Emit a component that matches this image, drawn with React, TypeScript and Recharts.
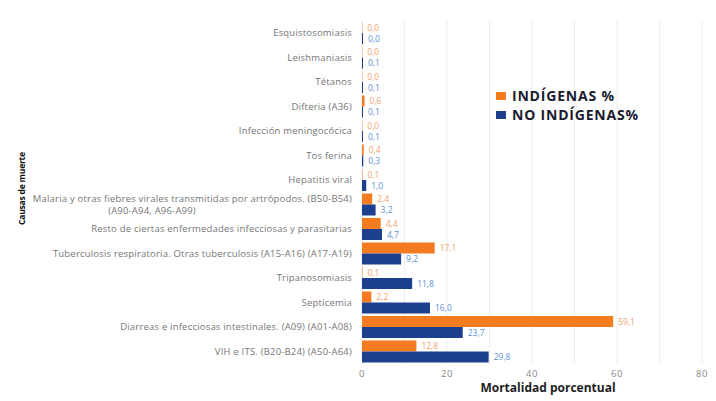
import { BarChart, Bar, XAxis, YAxis, CartesianGrid, LabelList } from 'recharts';

const causas = [
  'Esquistosomiasis',
  'Leishmaniasis',
  'Tétanos',
  'Difteria (A36)',
  'Infección meningocócica',
  'Tos ferina',
  'Hepatitis viral',
  'Malaria y  otras fiebres virales transmitidas por artrópodos. (B50-B54)|(A90-A94, A96-A99)',
  'Resto de ciertas enfermedades infecciosas y parasitarias',
  'Tuberculosis respiratoria. Otras tuberculosis (A15-A16) (A17-A19)',
  'Tripanosomiasis',
  'Septicemia',
  'Diarreas e infecciosas intestinales. (A09) (A01-A08)',
  'VIH e ITS. (B20-B24) (A50-A64)',
];

const indigenas = [0.0, 0.0, 0.0, 0.6, 0.0, 0.4, 0.1, 2.4, 4.4, 17.1, 0.1, 2.2, 59.1, 12.8];
const noIndigenas = [0.0, 0.1, 0.1, 0.1, 0.1, 0.3, 1.0, 3.2, 4.7, 9.2, 11.8, 16.0, 23.7, 29.8];

const xTicks = [0, 10, 20, 30, 40, 50, 60, 70, 80];

const ORANGE = '#F47B20';
const BLUE = '#1D3F8F';
const FONT = '"Open Sans", sans-serif';

const legendItems = [
  { label: 'INDÍGENAS %', color: ORANGE },
  { label: 'NO INDÍGENAS%', color: BLUE },
];

const data = causas.map((c, i) => ({
  causa: c,
  indigenas: indigenas[i],
  noIndigenas: noIndigenas[i],
}));

const fmt = (v: any) => Number(v).toFixed(1).replace('.', ',');

const tickStyle = { fontSize: 9.5, fontFamily: FONT, fill: '#767676', letterSpacing: 0.2 };

function CauseTick({ x, y, payload }: any) {
  const lines = String(payload.value).split('|');
  if (lines.length === 1) {
    return (
      <text x={x} y={y} dy={3} textAnchor="end" {...tickStyle}>
        {lines[0]}
      </text>
    );
  }
  return (
    <g>
      <text x={x} y={y} dy={-3} textAnchor="end" {...tickStyle}>
        {lines[0]}
      </text>
      <text x={152} y={y} dy={9.5} textAnchor="middle" {...tickStyle}>
        {lines[1]}
      </text>
    </g>
  );
}

function YTitle({ viewBox }: any) {
  const cy = viewBox.y + viewBox.height / 2 - 4;
  return (
    <text
      x={25}
      y={cy}
      transform={`rotate(-90 25 ${cy})`}
      textAnchor="middle"
      fontSize={8.5}
      fontWeight={700}
      fontFamily={FONT}
      fill="#111"
      letterSpacing={-0.2}
    >
      Causas de muerte
    </text>
  );
}

function XTitle({ viewBox }: any) {
  const cx = viewBox.x + viewBox.width / 2 + 16;
  return (
    <text
      x={cx}
      y={392}
      textAnchor="middle"
      fontSize={12}
      fontWeight={700}
      fontFamily={FONT}
      fill="#1e1e1e"
    >
      Mortalidad porcentual
    </text>
  );
}

export default function App() {
  return (
    <div style={{ position: 'absolute', left: 0, top: 0, width: 716, height: 401, background: '#fff' }}>
      <BarChart
        layout="vertical"
        width={716}
        height={401}
        data={data}
        margin={{ top: 21, right: 14, bottom: 0, left: 0 }}
        barCategoryGap={1}
        barGap={0}
      >
        <CartesianGrid horizontal={false} stroke="#efefef" />
        <XAxis
          type="number"
          domain={[0, 80]}
          ticks={xTicks}
          interval={0}
          tickFormatter={(v) => (v % 20 === 0 ? String(v) : '')}
          axisLine={false}
          tickLine={false}
          height={37}
          tick={{ fill: '#8a8a8a', fontSize: 9.5, fontFamily: FONT, letterSpacing: 0.5 }}
          tickMargin={0}
          label={<XTitle />}
        />
        <YAxis
          type="category"
          dataKey="causa"
          width={362}
          axisLine={false}
          tickLine={false}
          tickSize={0}
          tickMargin={10}
          interval={0}
          tick={<CauseTick />}
          label={<YTitle />}
        />
        <Bar dataKey="indigenas" name="INDÍGENAS %" fill={ORANGE} minPointSize={0.3} isAnimationActive={false}>
          <LabelList
            dataKey="indigenas"
            position="right"
            offset={5}
            formatter={fmt}
            fill="#EFA36B"
            fontSize={8.5}
            fontFamily={FONT}
          />
        </Bar>
        <Bar dataKey="noIndigenas" name="NO INDÍGENAS%" fill={BLUE} minPointSize={1} isAnimationActive={false}>
          <LabelList
            dataKey="noIndigenas"
            position="right"
            offset={5}
            formatter={fmt}
            fill="#5B93D3"
            fontSize={8.5}
            fontFamily={FONT}
          />
        </Bar>
      </BarChart>
      <div style={{ position: 'absolute', left: 496, top: 86, fontFamily: FONT }}>
        {legendItems.map((it) => (
          <div key={it.label} style={{ display: 'flex', alignItems: 'center', height: 19 }}>
            <div style={{ width: 10, height: 8, background: it.color, marginRight: 6 }} />
            <span style={{ fontSize: 14, fontWeight: 700, color: '#1b1b2e', letterSpacing: 0.8 }}>
              {it.label}
            </span>
          </div>
        ))}
      </div>
    </div>
  );
}
